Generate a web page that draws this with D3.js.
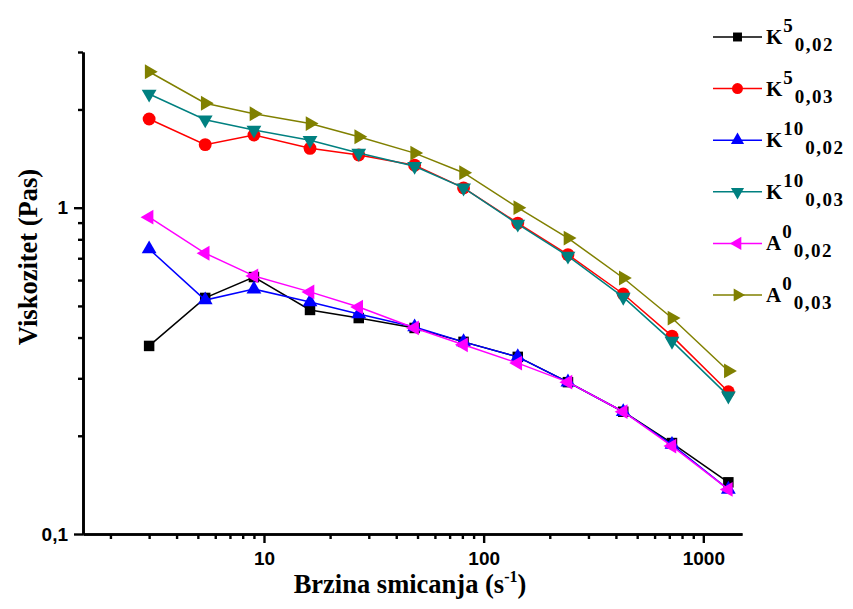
<!DOCTYPE html>
<html><head><meta charset="utf-8">
<script src="https://cdn.jsdelivr.net/npm/d3@7"></script>
<style>body{margin:0;background:#fff}svg{display:block}</style>
</head><body><svg id="c" width="853" height="609"></svg>
<script>
// ---- data ----
const shearRate = [3, 5.4, 9, 16.2, 27, 48.5, 81, 143, 242, 432, 720, 1300];
const K5_002  = [0.377, 0.529, 0.613, 0.486, 0.459, 0.428, 0.388, 0.349, 0.292, 0.237, 0.190, 0.144];
const K5_003  = [1.87, 1.56, 1.67, 1.52, 1.45, 1.35, 1.15, 0.897, 0.718, 0.544, 0.404, 0.273];
const K10_002 = [0.747, 0.521, 0.563, 0.514, 0.472, 0.431, 0.388, 0.349, 0.292, 0.237, 0.188, 0.137];
const K10_003 = [2.23, 1.86, 1.73, 1.61, 1.47, 1.34, 1.15, 0.891, 0.711, 0.532, 0.390, 0.265];
const A0_002  = [0.935, 0.725, 0.618, 0.552, 0.496, 0.428, 0.380, 0.334, 0.292, 0.237, 0.186, 0.137];
const A0_003  = [2.61, 2.09, 1.94, 1.81, 1.65, 1.47, 1.28, 1.00, 0.807, 0.609, 0.459, 0.316];

const legendBase = ["K", "K", "K", "K", "A", "A"];
const legendSup  = ["5", "5", "10", "10", "0", "0"];
const legendSub  = ["0,02", "0,03", "0,02", "0,03", "0,02", "0,03"];
const seriesColors = ["#000000", "#ff0000", "#0000ff", "#008080", "#ff00ff", "#808000"];
const seriesValues = [K5_002, K5_003, K10_002, K10_003, A0_002, A0_003];

const xMajorTicks = [10, 100, 1000];
const xMinorTicks = [2,3,4,5,6,7,8,9,20,30,40,50,60,70,80,90,200,300,400,500,600,700,800,900];
const yMajorTicks = [0.1, 1];
const yTickLabels = ["0,1", "1"];
const yMinorTicks = [0.2,0.3,0.4,0.5,0.6,0.7,0.8,0.9,2,3];
const xTitle = "Brzina smicanja (s";
const yTitle = "Viskozitet (Pas)";

// ---- chart ----
const svg = d3.select("#c");
svg.append("rect").attr("width",853).attr("height",609).attr("fill","#fff");

const x = d3.scaleLog().domain([1.5, 1500]).range([83, 742]);
const y = d3.scaleLog().domain([0.1, 3]).range([534, 52]);

const tickFont = "'Liberation Sans', Arial, sans-serif";
const serif = "'Liberation Serif', 'Times New Roman', serif";

function styleAxis(g){
  g.select(".domain").attr("stroke","#000").attr("stroke-width",2.6);
  g.selectAll(".tick line").attr("stroke","#000").attr("stroke-width",2.4);
  g.selectAll(".tick text").attr("fill","#000").attr("font-family",tickFont)
    .attr("font-weight","bold").attr("font-size",19);
}

// x axis
const gxMinor = svg.append("g").attr("transform","translate(0,534)")
  .call(d3.axisBottom(x).tickValues(xMinorTicks).tickSize(5).tickSizeOuter(0).tickFormat(""));
styleAxis(gxMinor);
const gx = svg.append("g").attr("transform","translate(0,534)")
  .call(d3.axisBottom(x).tickValues(xMajorTicks).tickSize(9).tickSizeOuter(0).tickPadding(9).tickFormat(d3.format("d")));
styleAxis(gx);

// y axis
const gyMinor = svg.append("g").attr("transform","translate(83,0)")
  .call(d3.axisLeft(y).tickValues(yMinorTicks).tickSize(5).tickSizeOuter(0).tickFormat(""));
styleAxis(gyMinor);
const gy = svg.append("g").attr("transform","translate(83,0)")
  .call(d3.axisLeft(y).tickValues(yMajorTicks).tickSize(9).tickSizeOuter(0).tickPadding(6)
    .tickFormat((d,i)=>yTickLabels[i]));
styleAxis(gy);

// titles
const xt = svg.append("text").attr("x",410).attr("y",593).attr("text-anchor","middle")
  .attr("font-family",serif).attr("font-weight","bold").attr("font-size",26.5).attr("fill","#000");
xt.append("tspan").text(xTitle);
xt.append("tspan").attr("dy",-11).attr("font-size",16).text("-1");
xt.append("tspan").attr("dy",11).text(")");

svg.append("text").attr("transform","translate(37,257) rotate(-90)").attr("text-anchor","middle")
  .attr("font-family",serif).attr("font-weight","bold").attr("font-size",26.5).attr("fill","#000")
  .text(yTitle);

// symbols
const symTypes = [d3.symbolSquare, d3.symbolCircle, d3.symbolTriangle, d3.symbolTriangle, d3.symbolTriangle, d3.symbolTriangle];
const symRot = [0, 0, 0, 180, -90, 90];
const symSize = [110, 130, 95, 95, 95, 95];
const legSize = [80, 95, 75, 75, 75, 75];

const line = d3.line().x((d,i)=>x(shearRate[i])).y(d=>y(d));

seriesValues.forEach((vals, s) => {
  const g = svg.append("g");
  g.append("path").datum(vals).attr("d", line).attr("fill","none")
    .attr("stroke", seriesColors[s]).attr("stroke-width",1.5);
  g.selectAll("path.m").data(vals).join("path").attr("class","m")
    .attr("d", d3.symbol().type(symTypes[s]).size(symSize[s]))
    .attr("transform",(d,i)=>`translate(${x(shearRate[i])},${y(d)}) rotate(${symRot[s]})`)
    .attr("fill", seriesColors[s]);
});

// legend
const legY0 = 37, legDy = 51.6;
seriesValues.forEach((vals, s) => {
  const ly = legY0 + s*legDy;
  const g = svg.append("g");
  g.append("line").attr("x1",713).attr("x2",762).attr("y1",ly).attr("y2",ly)
    .attr("stroke",seriesColors[s]).attr("stroke-width",1.5);
  g.append("path").attr("d", d3.symbol().type(symTypes[s]).size(legSize[s]))
    .attr("transform",`translate(737.5,${ly}) rotate(${symRot[s]})`).attr("fill",seriesColors[s]);
  const t = g.append("text").attr("x",766).attr("y",ly+7)
    .attr("font-family",serif).attr("font-weight","bold").attr("font-size",21).attr("fill","#000");
  t.append("tspan").text(legendBase[s]);
  t.append("tspan").attr("dx",1).attr("dy",-12).attr("font-size",19).attr("letter-spacing",1).text(legendSup[s]);
  t.append("tspan").attr("dx",1).attr("dy",19).attr("font-size",19).attr("letter-spacing",1.5).text(legendSub[s]);
});
</script></body></html>
